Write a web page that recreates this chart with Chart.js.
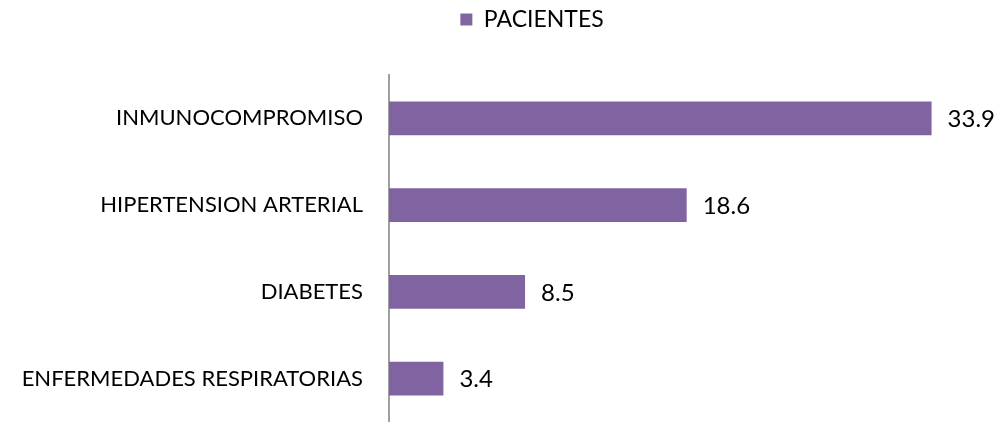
<!DOCTYPE html>
<html>
<head>
<meta charset="utf-8">
<script src="https://cdn.jsdelivr.net/npm/chart.js@4"></script>
<style>
html,body{margin:0;padding:0;background:#fff;}
canvas{display:block;}
</style>
</head>
<body>
<canvas id="c" width="1002" height="422"></canvas>
<script>
const categories = ["INMUNOCOMPROMISO", "HIPERTENSION ARTERIAL", "DIABETES", "ENFERMEDADES RESPIRATORIAS"];
const seriesName = "PACIENTES";
const pacientes = [33.9, 18.6, 8.5, 3.4];

const valueLabels = {
  id: 'valueLabels',
  afterDatasetsDraw(chart) {
    const ctx = chart.ctx;
    const meta = chart.getDatasetMeta(0);
    ctx.save();
    ctx.font = '24px Lato';
    ctx.fillStyle = '#000';
    ctx.textAlign = 'left';
    ctx.textBaseline = 'middle';
    meta.data.forEach((bar, i) => {
      ctx.fillText(String(chart.data.datasets[0].data[i]), bar.x + 16, bar.y + 1);
    });
    ctx.restore();
  }
};

const TOP_SHIFT = 34;
const LEGEND_SHIFT = 62;
const legendShift = {
  id: 'legendShift',
  afterLayout(chart) {
    const lg = chart.legend;
    if (!lg) return;
    lg.top -= TOP_SHIFT;
    lg.bottom -= TOP_SHIFT;
    lg.left += LEGEND_SHIFT;
  }
};

Chart.defaults.font.family = 'Lato';
Chart.defaults.color = '#000';

new Chart(document.getElementById('c'), {
  type: 'bar',
  data: {
    labels: categories,
    datasets: [{
      label: seriesName,
      data: pacientes,
      backgroundColor: '#8064A2',
      borderWidth: 0,
      categoryPercentage: 0.39,
      barPercentage: 1.0
    }]
  },
  options: {
    indexAxis: 'y',
    responsive: false,
    animation: false,
    layout: { padding: { left: 0, right: 0, top: TOP_SHIFT, bottom: 0 } },
    plugins: {
      legend: {
        position: 'top',
        labels: {
          boxWidth: 12,
          boxHeight: 12,
          padding: 8,
          font: { size: 23, family: 'Lato' },
          color: '#000'
        }
      },
      tooltip: { enabled: false }
    },
    scales: {
      x: {
        display: false,
        min: 0,
        max: 38.3
      },
      y: {
        grid: { display: false, drawTicks: false },
        border: { display: true, color: '#a0a0a0', width: 2 },
        ticks: {
          padding: 26,
          font: { size: 22, family: 'Lato' },
          color: '#000'
        },
        afterFit(scale) {
          scale.width = 389;
          scale.paddingTop = 0;
          scale.paddingBottom = 0;
        }
      }
    }
  },
  plugins: [valueLabels, legendShift]
});
</script>
</body>
</html>
